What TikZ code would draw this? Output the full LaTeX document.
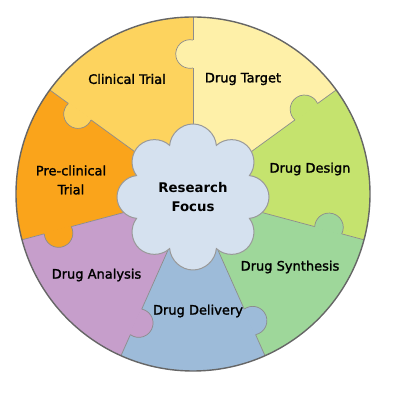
\documentclass[tikz,border=0pt]{standalone}
\usepackage{fontspec}
\newfontfamily\lblfont{DejaVu Sans}[BoldFont=DejaVu Sans, BoldFeatures={FakeBold=1.6}]
\newfontfamily\focusfont{DejaVu Sans Bold}
\usetikzlibrary{shapes.symbols}
\definecolor{clinical}{HTML}{FDD35E}
\definecolor{target}{HTML}{FEF0A8}
\definecolor{design}{HTML}{C5E36E}
\definecolor{synth}{HTML}{9ED79A}
\definecolor{delivery}{HTML}{9DBBD9}
\definecolor{analysis}{HTML}{C69ECB}
\definecolor{preclin}{HTML}{FAA41B}
\definecolor{focusblue}{HTML}{D5E1EF}
\begin{document}
\begin{tikzpicture}[x=1pt, y=1pt,
  every node/.style={font=\lblfont\bfseries\fontsize{13}{19}\selectfont, align=center},
  edge/.style={draw=black!45, line width=0.7pt},
  rim/.style={draw=black!60, line width=1.4pt},
  focus/.style={cloud, cloud puffs=8, cloud puff arc=170, aspect=1, draw=black!40, fill=focusblue, line width=1pt, minimum width=152pt, minimum height=146pt, inner sep=0pt, font=\focusfont\fontsize{13.3}{19}\selectfont}
]
  \useasboundingbox (-193,-204) rectangle (207,194);
  % wedges
  \foreach \a/\b/\c in {36/90/target, 90/144/clinical, 144/195/preclin, 195/246/analysis, 246/294/delivery, 294/345/synth, 345/396/design}
    \fill[\c] (0,0) -- (\a:177) arc[start angle=\a, end angle=\b, radius=177] -- cycle;
  \foreach \a in {36,90,144,195,246,294,345}
    \draw[edge] (0,0) -- (\a:177);
  % puzzle knobs
  \foreach \a/\c in {90/target, 144/clinical, 195/preclin, 246/analysis, 294/delivery, 345/synth, 36/design}{
    \begin{scope}[rotate=\a]
      \fill[\c] (126,-1) -- (126,0) arc[start angle=192, end angle=-12, radius=14.3] -- (154,-1) -- cycle;
      \draw[edge] (126,0) arc[start angle=192, end angle=-12, radius=14.3];
    \end{scope}
  }
  \draw[rim] (0,0) circle[radius=177];
  % centre
  \node[focus] (focus) at (0,-3) {Research\\Focus};
  % labels
  \node (clinicallbl) at (-66,115) {Clinical Trial};
  \node (targetlbl) at (50,115) {Drug Target};
  \node (designlbl) at (117,25) {Drug Design};
  \node (preclinlbl) at (-122,14) {Pre-clinical\\Trial};
  \node (synthlbl) at (97,-73) {Drug Synthesis};
  \node (analysislbl) at (-96.5,-81) {Drug Analysis};
  \node (deliverylbl) at (5,-117) {Drug Delivery};
\end{tikzpicture}
\end{document}
